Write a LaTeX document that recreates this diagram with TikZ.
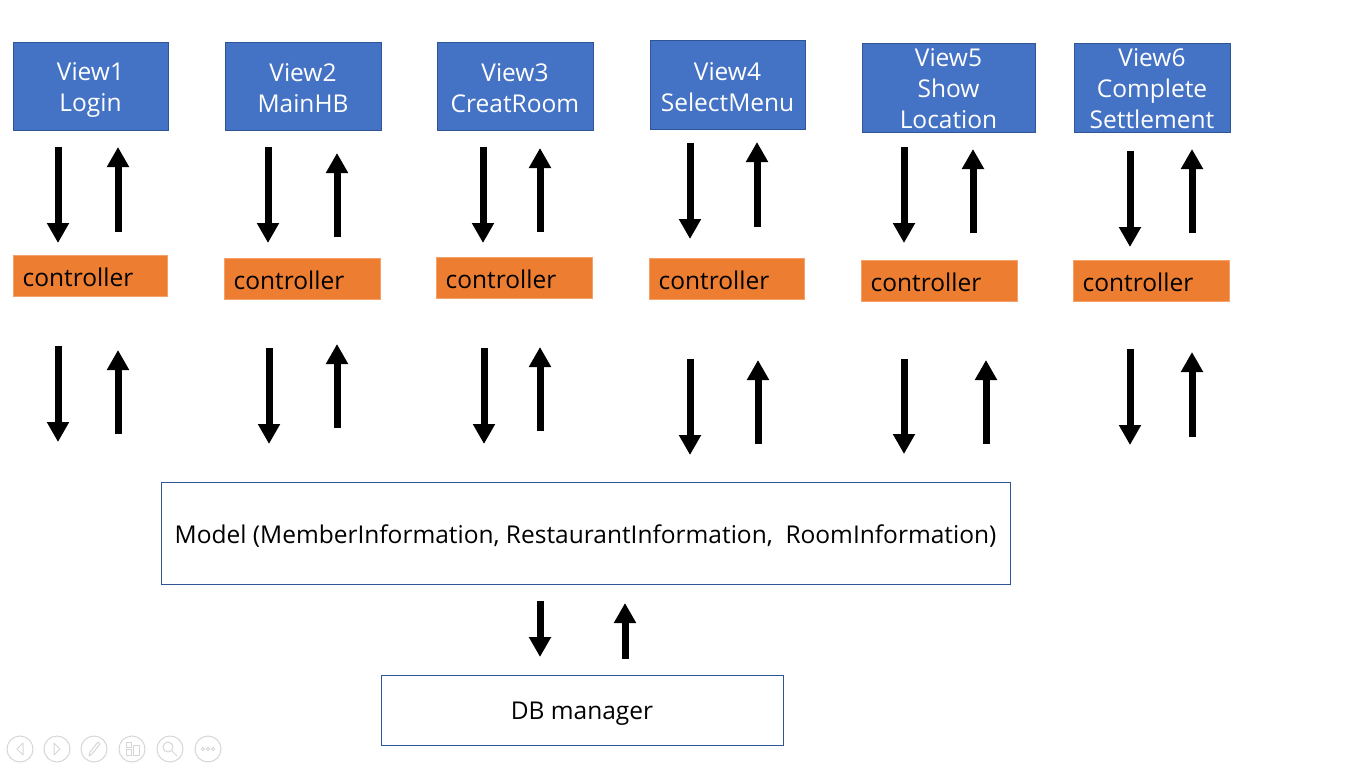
\documentclass[tikz,border=0pt]{standalone}
\usepackage{fontspec}
\setmainfont{Open Sans}
\usetikzlibrary{arrows.meta}
\definecolor{vblue}{HTML}{4472C4}
\definecolor{vedge}{HTML}{2F5597}
\definecolor{corange}{HTML}{ED7D31}
\definecolor{cedge}{HTML}{F4A26A}
\definecolor{tool}{HTML}{D6D6D6}
\begin{document}
\begin{tikzpicture}[x=1pt,y=-1pt,
  view/.style={draw=vedge, fill=vblue, line width=1pt, inner sep=0pt},
  vtext/.style={text=white, font=\fontsize{24.5}{31}\selectfont, align=center, inner sep=0pt},
  ctrl/.style={draw=cedge, fill=corange, line width=1pt, inner sep=0pt, minimum height=41pt},
  ctext/.style={font=\fontsize{24.5}{31}\selectfont, inner sep=0pt, anchor=west, yshift=-1.5pt},
  plain/.style={draw=vedge, fill=white, line width=1pt, inner sep=0pt},
  ptext/.style={font=\fontsize{24.5}{31}\selectfont, inner sep=0pt, yshift=-3pt},
  arr/.style={line width=7pt, -{Triangle[width=21pt,length=20pt]}},
  tbtn/.style={draw=tool, line width=1pt, circle, minimum size=26pt, inner sep=0pt},
]
\useasboundingbox (0,0) rectangle (1366,768);

% views
\node[view, minimum width=155pt, minimum height=87pt] (v1) at (90.5,86.5) {};
\node[view, minimum width=156pt, minimum height=87pt] (v2) at (303,86.5) {};
\node[view, minimum width=156pt, minimum height=87pt] (v3) at (515,86.5) {};
\node[view, minimum width=155pt, minimum height=88pt] (v4) at (727.5,85) {};
\node[view, minimum width=173pt, minimum height=88pt] (v5) at (948.5,88) {};
\node[view, minimum width=156pt, minimum height=88pt] (v6) at (1152,88) {};
\node[vtext, yshift=-3.5pt] (v1t) at (v1) {View1\\Login};
\node[vtext, yshift=-1.5pt] (v2t) at (v2) {View2\\MainHB};
\node[vtext, yshift=-1.5pt] (v3t) at (v3) {View3\\CreatRoom};
\node[vtext, yshift=-2pt] (v4t) at (v4) {View4\\SelectMenu};
\node[vtext, yshift=-1pt] (v5t) at (v5) {View5\\Show\\Location};
\node[vtext, yshift=-1pt] (v6t) at (v6) {View6\\Complete\\Settlement};

% controllers
\node[ctrl, minimum width=154pt] (c1) at (90,275.5) {};
\node[ctrl, minimum width=156pt] (c2) at (302,278.5) {};
\node[ctrl, minimum width=156pt] (c3) at (514,277.5) {};
\node[ctrl, minimum width=155pt] (c4) at (726.5,278.5) {};
\node[ctrl, minimum width=156pt] (c5) at (939,280.5) {};
\node[ctrl, minimum width=156pt] (c6) at (1151,280.5) {};
\foreach \c in {c1,c2,c3,c4,c5,c6}
  \node[ctext] (\c t) at ([xshift=10pt]\c.west) {controller};

% model and db
\node[plain, minimum width=849pt, minimum height=102pt] (model) at (585.5,533) {};
\node[ptext] (modelt) at (model) {Model (MemberInformation, RestaurantInformation,\ \ RoomInformation)};
\node[plain, minimum width=402pt, minimum height=70pt] (db) at (582,710) {};
\node[ptext, yshift=-1pt] (dbt) at (db) {DB manager};

% view <-> controller arrows
\foreach \x/\a/\b in {58/147/243, 268/147/243, 483/147/243, 690/143/239, 904/147/243, 1130/151/247}
  \draw[arr] (\x,\a) -- (\x,\b);
\foreach \x/\a/\b in {118/232/147, 337/237/153, 540/232/148, 757/227/142, 973/233/149, 1192/233/149}
  \draw[arr] (\x,\a) -- (\x,\b);

% controller <-> model arrows
\foreach \x/\a/\b in {58/346/442, 269/348/444, 484/348/444, 690/359/455, 904/359/454, 1130/349/445}
  \draw[arr] (\x,\a) -- (\x,\b);
\foreach \x/\a/\b in {118/434/350, 337/428/344, 540/431/347, 758/444/360, 986/444/360, 1192/437/352}
  \draw[arr] (\x,\a) -- (\x,\b);

% model <-> db arrows
\draw[arr] (540,601) -- (540,657);
\draw[arr] (625,659) -- (625,603);

% slideshow toolbar
\node[tbtn] (t1) at (20,749) {};
\node[tbtn] (t2) at (57,749) {};
\node[tbtn] (t3) at (94,749) {};
\node[tbtn] (t4) at (132,749) {};
\node[tbtn] (t5) at (170,749) {};
\node[tbtn] (t6) at (208,749) {};
\draw[tool, line width=1pt, line join=round] (23,743) -- (17,749) -- (23,755) -- cycle;
\draw[tool, line width=1pt, line join=round] (54,743) -- (60,749) -- (54,755) -- cycle;
\draw[tool, line width=1pt, line join=round] (89,756) -- (90,752) -- (98,742) -- (100,744) -- (92,754) -- cycle;
\draw[tool, line width=1pt] (126,742) rectangle (131,747) (126,749) rectangle (131,755) (133,745) rectangle (139,755);
\draw[tool, line width=1pt] (168,747) circle (5pt) (172,751) -- (177,756);
\foreach \dx in {-5,0,5} \draw[tool, line width=0.8pt] (208+\dx,749) circle (1.8pt);
\end{tikzpicture}
\end{document}
